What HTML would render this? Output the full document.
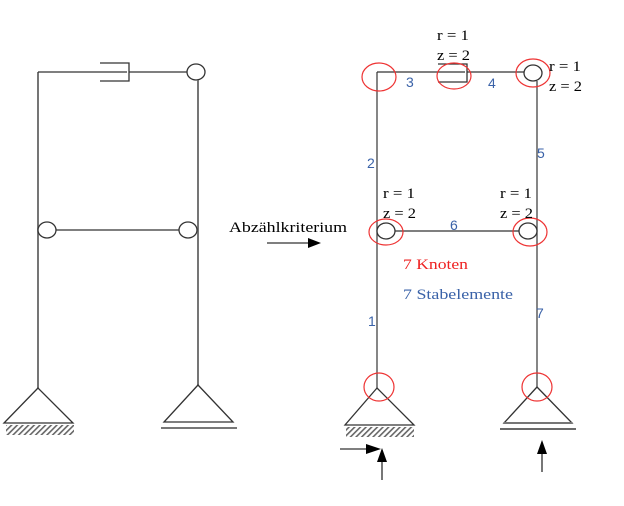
<!DOCTYPE html>
<html><head><meta charset="utf-8"><style>
html,body{margin:0;padding:0;background:#fff;}
svg{display:block;}
text{font-family:"Liberation Serif",serif;font-size:15px;}
.b{fill:#3a62a8;}
.n{font-family:"Liberation Sans",sans-serif;font-size:14px;fill:#3a62a8;}
</style></head><body>
<svg width="624" height="506" viewBox="0 0 624 506" xmlns="http://www.w3.org/2000/svg">
<defs>
<pattern id="h" width="4" height="4" patternUnits="userSpaceOnUse" patternTransform="rotate(45)">
<rect width="1.6" height="4" fill="#666"/></pattern>
</defs>
<g stroke="#333" stroke-width="1.3" fill="none">
<line x1="38" y1="72" x2="38" y2="388" stroke="#666" stroke-width="1.8"/>
<line x1="38" y1="72" x2="127" y2="72"/>
<polyline points="100,63 129,63 129,81 100,81"/>
<line x1="129" y1="72" x2="187" y2="72"/>
<ellipse cx="196" cy="72" rx="9" ry="8" fill="#fff"/>
<line x1="198" y1="80" x2="198" y2="385" stroke="#666" stroke-width="1.8"/>
<line x1="56" y1="230" x2="179" y2="230"/>
<ellipse cx="47" cy="230" rx="9" ry="8" fill="#fff"/>
<ellipse cx="188" cy="230" rx="9" ry="8" fill="#fff"/>
<polygon points="38,388 4,423 73,423"/>
<polygon points="198,385 164,422 233,422"/>
<line x1="161" y1="428" x2="237" y2="428" stroke="#777" stroke-width="2"/>
<line x1="267" y1="243" x2="308" y2="243" stroke="#555" stroke-width="1.6"/>
<line x1="377" y1="72" x2="377" y2="388" stroke="#444"/>
<line x1="377" y1="72" x2="465" y2="72"/>
<polyline points="438,64 467,64 467,82 438,82"/>
<line x1="467" y1="72" x2="525" y2="72"/>
<ellipse cx="533" cy="73" rx="9" ry="8" fill="#fff"/>
<line x1="537" y1="81" x2="537" y2="387" stroke="#444"/>
<line x1="395" y1="231" x2="519" y2="231"/>
<ellipse cx="386" cy="231" rx="9" ry="8" fill="#fff"/>
<ellipse cx="528" cy="231" rx="9" ry="8" fill="#fff"/>
<polygon points="377,388 345,425 414,425"/>
<polygon points="537,387 504,423 572,423"/>
<line x1="504" y1="423" x2="572" y2="423" stroke="#777" stroke-width="2"/>
<line x1="500" y1="429" x2="576" y2="429" stroke="#111"/>
<line x1="340" y1="449" x2="368" y2="449" stroke="#555" stroke-width="1.6"/>
<line x1="382" y1="480" x2="382" y2="460" stroke="#555" stroke-width="1.6"/>
<line x1="542" y1="472" x2="542" y2="452" stroke="#555" stroke-width="1.6"/>
</g>
<rect x="6" y="425" width="68" height="10" fill="url(#h)"/>
<rect x="346" y="427" width="68" height="10" fill="url(#h)"/>
<g fill="#000">
<polygon points="308,238 321,243 308,248"/>
<polygon points="366,444 381,449 366,454"/>
<polygon points="377,462 382,448 387,462"/>
<polygon points="537,454 542,440 547,454"/>
</g>
<g stroke="#e33" stroke-width="1.2" fill="none">
<ellipse cx="379" cy="77" rx="17" ry="14"/>
<ellipse cx="454" cy="76" rx="17" ry="13"/>
<ellipse cx="533" cy="73" rx="17" ry="14"/>
<ellipse cx="386" cy="232" rx="17" ry="13"/>
<ellipse cx="530" cy="232" rx="17" ry="14"/>
<ellipse cx="379" cy="387" rx="15" ry="14"/>
<ellipse cx="537" cy="387" rx="15" ry="14"/>
</g>
<text x="229" y="232" textLength="118" lengthAdjust="spacingAndGlyphs">Abzählkriterium</text>
<text x="437" y="40" textLength="32" lengthAdjust="spacingAndGlyphs">r = 1</text><text x="437" y="60" textLength="33" lengthAdjust="spacingAndGlyphs">z = 2</text>
<text x="549" y="71" textLength="32" lengthAdjust="spacingAndGlyphs">r = 1</text><text x="549" y="91" textLength="33" lengthAdjust="spacingAndGlyphs">z = 2</text>
<text x="383" y="198" textLength="32" lengthAdjust="spacingAndGlyphs">r = 1</text><text x="383" y="218" textLength="33" lengthAdjust="spacingAndGlyphs">z = 2</text>
<text x="500" y="198" textLength="32" lengthAdjust="spacingAndGlyphs">r = 1</text><text x="500" y="218" textLength="33" lengthAdjust="spacingAndGlyphs">z = 2</text>
<text class="n" x="406" y="87">3</text>
<text class="n" x="488" y="88">4</text>
<text class="n" x="367" y="168">2</text>
<text class="n" x="537" y="158">5</text>
<text class="n" x="450" y="230">6</text>
<text class="n" x="368" y="326">1</text>
<text class="n" x="536" y="318">7</text>
<text x="403" y="269" fill="#e22" textLength="65" lengthAdjust="spacingAndGlyphs">7 Knoten</text>
<text class="b" x="403" y="299" textLength="110" lengthAdjust="spacingAndGlyphs">7 Stabelemente</text>
</svg>
</body></html>
